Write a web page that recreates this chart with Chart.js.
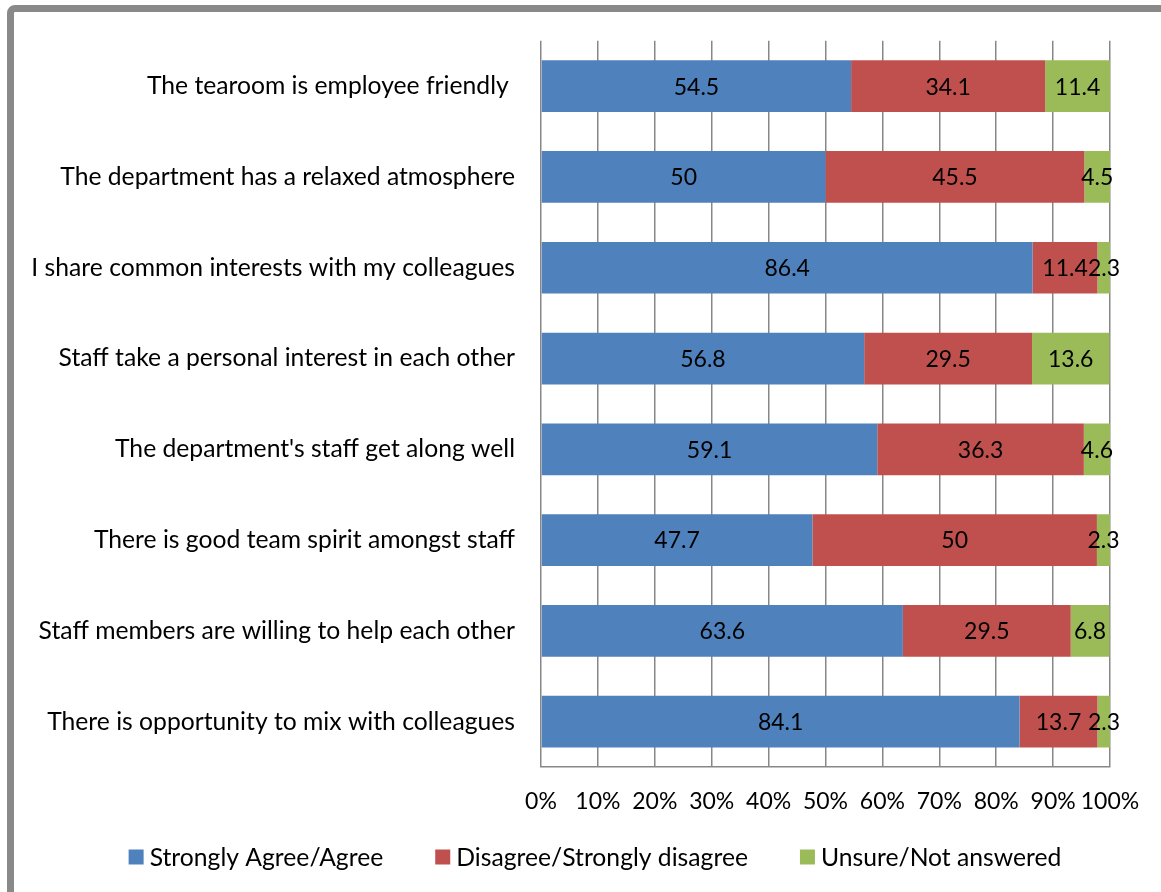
<!DOCTYPE html>
<html>
<head>
<meta charset="utf-8">
<script src="https://cdn.jsdelivr.net/npm/chart.js@4.4.1/dist/chart.umd.min.js"></script>
<style>
  html, body { margin: 0; padding: 0; background: #fff; overflow: hidden; }
  #wrap { position: relative; width: 1161px; height: 892px; }
  #frame {
    position: absolute; left: 7px; top: 5px; width: 1200px; height: 950px;
    border: 7px solid #898989; border-radius: 8px; pointer-events: none;
  }
</style>
</head>
<body>
<div id="wrap">
  <canvas id="chart" width="1161" height="892"></canvas>
  <div id="frame"></div>
</div>
<script>
const statements = [
  "The tearoom is employee friendly ",
  "The department has a relaxed atmosphere",
  "I share common interests with my colleagues",
  "Staff take a personal interest in each other",
  "The department's staff get along well",
  "There is good team spirit amongst staff",
  "Staff members are willing to help each other",
  "There is opportunity to mix with colleagues"
];
const agree    = [54.5, 50, 86.4, 56.8, 59.1, 47.7, 63.6, 84.1];
const disagree = [34.1, 45.5, 11.4, 29.5, 36.3, 50, 29.5, 13.7];
const unsure   = [11.4, 4.5, 2.3, 13.6, 4.6, 2.3, 6.8, 2.3];
const seriesNames = ["Strongly Agree/Agree", "Disagree/Strongly disagree", "Unsure/Not answered"];
const seriesColors = ["#4F81BD", "#C0504D", "#9BBB59"];

const FONT = "Lato, 'Open Sans', sans-serif";
const TEXT_SIZE = 24.7; // category names and legend
const NUM_SIZE = 23;    // percentages and segment values

// value text centred on every bar segment
const segmentLabels = {
  id: "segmentLabels",
  afterDatasetsDraw(chart) {
    const ctx = chart.ctx;
    ctx.save();
    ctx.font = `${NUM_SIZE}px ${FONT}`;
    ctx.fillStyle = "#000";
    ctx.textAlign = "center";
    ctx.textBaseline = "middle";
    chart.data.datasets.forEach((ds, di) => {
      chart.getDatasetMeta(di).data.forEach((bar, i) => {
        const c = bar.getCenterPoint();
        ctx.fillText(String(ds.data[i]), c.x, c.y + 1);
      });
    });
    ctx.restore();
  }
};

// one-row legend under the axis: square swatch, short gap, name
const legendRow = {
  id: "legendRow",
  afterDraw(chart) {
    const ctx = chart.ctx;
    const box = 15, gap = 6, spacing = 52, cx = 595, cy = 857;
    ctx.save();
    ctx.font = `${TEXT_SIZE}px ${FONT}`;
    ctx.textBaseline = "middle";
    ctx.textAlign = "left";
    const items = chart.data.datasets.map((ds) => ({
      text: ds.label,
      color: ds.backgroundColor,
      w: ctx.measureText(ds.label).width
    }));
    const total = items.reduce((s, it) => s + box + gap + it.w, 0) + spacing * (items.length - 1);
    let x = cx - total / 2;
    items.forEach((it) => {
      ctx.fillStyle = it.color;
      ctx.fillRect(x, cy - box / 2, box, box);
      ctx.fillStyle = "#000";
      ctx.fillText(it.text, x + box + gap, cy + 1);
      x += box + gap + it.w + spacing;
    });
    ctx.restore();
  }
};

const data = {
  labels: statements,
  datasets: [agree, disagree, unsure].map((vals, k) => ({
    label: seriesNames[k],
    data: vals,
    backgroundColor: seriesColors[k],
    borderWidth: 0,
    barPercentage: 0.57,
    categoryPercentage: 1
  }))
};

new Chart(document.getElementById("chart"), {
  type: "bar",
  data,
  plugins: [segmentLabels, legendRow],
  options: {
    indexAxis: "y",
    responsive: false,
    animation: false,
    layout: { padding: { top: 38, right: 51, left: 0, bottom: 65 } },
    plugins: {
      tooltip: { enabled: false },
      legend: { display: false }
    },
    scales: {
      x: {
        stacked: true,
        min: 0,
        max: 100,
        grid: { color: "#878787", lineWidth: 1.5, drawTicks: false },
        border: { color: "#878787", width: 1.5 },
        ticks: {
          stepSize: 10,
          autoSkip: false,
          padding: 21,
          color: "#000",
          font: { family: FONT, size: NUM_SIZE },
          maxRotation: 0,
          callback: (v) => v + "%"
        },
        afterFit: (scale) => { scale.height = 60; }
      },
      y: {
        stacked: true,
        grid: { display: false, drawTicks: false },
        border: { display: false },
        ticks: {
          padding: 26,
          color: "#000",
          font: { family: FONT, size: TEXT_SIZE }
        },
        afterFit: (scale) => { scale.width = 541; }
      }
    }
  }
});
</script>
</body>
</html>
